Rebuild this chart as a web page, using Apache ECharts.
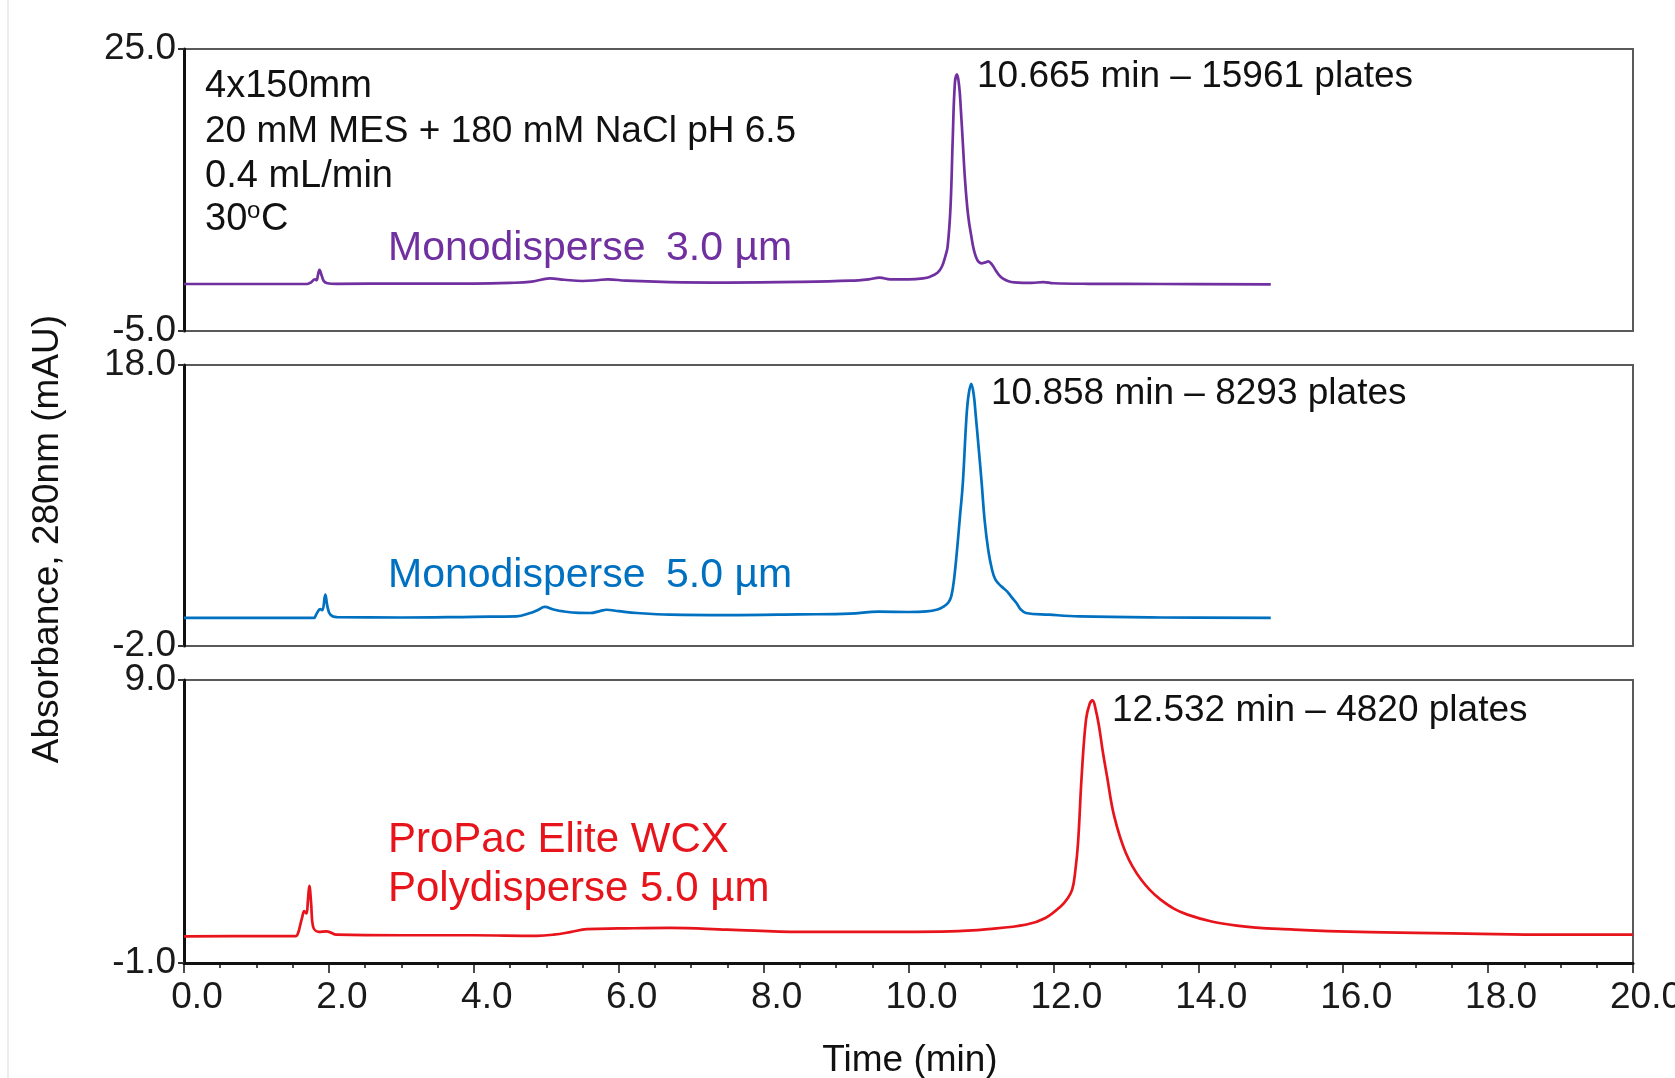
<!DOCTYPE html>
<html>
<head>
<meta charset="utf-8">
<title>WCX chromatograms</title>
<script src="https://cdn.jsdelivr.net/npm/echarts@6/dist/echarts.min.js"></script>
<style>
  html, body { margin: 0; padding: 0; background: #fff; }
  #chart { width: 1675px; height: 1078px; }
</style>
</head>
<body>
<div id="chart"></div>
<script>
// time (min), absorbance (mAU)
var mono3 = [
  [0, 0.0], [1.0, 0.0], [1.70, 0.0], [1.75, 0.15], [1.79, 0.45], [1.81, 0.5], [1.83, 0.4],
  [1.85, 1.0], [1.87, 1.5], [1.90, 0.9], [1.93, 0.3], [1.98, 0.08], [2.1, 0.02], [3.0, 0.05],
  [4.0, 0.05], [4.5, 0.12], [4.8, 0.25], [5.05, 0.6], [5.25, 0.45], [5.5, 0.32], [5.7, 0.4],
  [5.85, 0.5], [6.1, 0.35], [6.7, 0.2], [7.5, 0.15], [8.5, 0.22], [9.2, 0.35], [9.45, 0.5],
  [9.6, 0.67], [9.75, 0.5], [10.0, 0.5], [10.2, 0.6], [10.3, 0.78], [10.4, 1.2], [10.46, 1.84],
  [10.51, 3.0], [10.54, 3.97], [10.58, 8.2], [10.61, 15.3], [10.64, 21.35], [10.67, 22.3],
  [10.70, 21.0], [10.72, 18.9], [10.75, 15.0], [10.78, 11.1], [10.82, 7.5], [10.86, 5.4],
  [10.93, 2.9], [11.01, 2.2], [11.06, 2.3], [11.10, 2.4], [11.15, 2.1], [11.20, 1.5],
  [11.25, 0.95], [11.30, 0.6], [11.38, 0.3], [11.46, 0.18], [11.7, 0.12], [11.86, 0.2],
  [12.0, 0.08], [12.5, 0.02], [13.5, 0.0], [15.0, -0.05]
]
var mono5 = [
  [0, 0.0], [1.0, 0.0], [1.79, 0.0], [1.83, 0.3], [1.88, 0.63], [1.91, 0.55], [1.95, 1.65],
  [1.98, 0.8], [2.02, 0.23], [2.11, 0.05], [3.0, 0.03], [4.0, 0.08], [4.59, 0.11], [4.78, 0.35],
  [4.88, 0.55], [4.98, 0.78], [5.1, 0.6], [5.24, 0.46], [5.45, 0.36], [5.61, 0.35], [5.75, 0.5],
  [5.83, 0.58], [6.0, 0.48], [6.25, 0.35], [6.71, 0.23], [7.5, 0.2], [8.5, 0.25], [9.19, 0.3],
  [9.59, 0.44], [10.0, 0.42], [10.25, 0.46], [10.40, 0.6], [10.49, 0.82], [10.55, 1.1],
  [10.59, 1.53], [10.63, 2.8], [10.67, 4.85], [10.71, 7.2], [10.75, 9.6], [10.80, 14.3],
  [10.83, 15.9], [10.866, 16.65], [10.90, 15.9], [10.93, 14.3], [10.97, 12.0], [11.01, 9.6],
  [11.05, 7.0], [11.10, 4.85], [11.15, 3.5], [11.20, 2.72], [11.28, 2.25], [11.36, 1.89],
  [11.42, 1.5], [11.49, 1.06], [11.55, 0.6], [11.62, 0.35], [11.94, 0.23], [12.36, 0.11],
  [13.5, 0.03], [15.0, 0.0]
]
var poly5 = [
  [0, -0.06], [1.0, -0.05], [1.54, -0.05], [1.58, 0.1], [1.60, 0.3], [1.63, 0.6], [1.66, 0.83],
  [1.69, 0.75], [1.71, 1.2], [1.73, 1.73], [1.755, 1.1], [1.78, 0.3], [1.86, 0.1], [1.97, 0.12],
  [2.11, 0.0], [3.0, -0.02], [4.0, -0.02], [4.87, -0.04], [5.1, 0.0], [5.33, 0.09], [5.56, 0.2],
  [6.0, 0.22], [6.71, 0.24], [7.5, 0.18], [8.5, 0.1], [9.5, 0.1], [10.57, 0.12], [11.10, 0.2],
  [11.63, 0.36], [11.89, 0.59], [12.10, 1.0], [12.20, 1.3], [12.26, 1.6], [12.30, 2.2],
  [12.34, 3.24], [12.39, 5.6], [12.45, 7.6], [12.50, 8.15], [12.54, 8.28], [12.58, 8.0],
  [12.63, 7.36], [12.68, 6.5], [12.74, 5.6], [12.84, 4.18], [13.00, 2.89], [13.21, 1.95],
  [13.48, 1.24], [13.85, 0.71], [14.53, 0.32], [15.32, 0.18], [16.38, 0.09], [17.70, 0.04],
  [18.85, 0.0], [20.0, 0.0]
]
// y range of each panel [min, max]
var yRanges = [[-5, 25], [-2, 18], [-1, 9]]
var traceColors = ['#7030A0', '#0070C0', '#E8141C']
var peakNotes = ['10.665 min \u2013 15961 plates', '10.858 min \u2013 8293 plates', '12.532 min \u2013 4820 plates']
var conditions = ['4x150mm', '20 mM MES + 180 mM NaCl pH 6.5', '0.4 mL/min']
var traceNames = ['Monodisperse\u20023.0 \u00b5m', 'Monodisperse\u20025.0 \u00b5m', 'ProPac Elite WCX', 'Polydisperse 5.0 \u00b5m']

var FONT = '"Liberation Sans", Arial, sans-serif'
var myChart = echarts.init(document.getElementById('chart'))

var panels = [
  { top: 49, height: 282 },
  { top: 365, height: 281 },
  { top: 680, height: 283 }
]

var grids = [], xAxes = [], yAxes = []
panels.forEach(function (p, i) {
  grids.push({
    left: 184, right: 42, top: p.top, height: p.height,
    outerBoundsMode: 'none', containLabel: false,
    show: true, borderColor: '#595959', borderWidth: 2, backgroundColor: 'transparent'
  })
  var last = i === 2
  xAxes.push({
    type: 'value', gridIndex: i, min: 0, max: 20, interval: 2,
    axisLine: { show: last, onZero: false, lineStyle: { color: '#111', width: 3 } },
    axisTick: { show: last, length: 10, lineStyle: { color: '#111', width: 1.5 } },
    minorTick: { show: last, splitNumber: 4, length: 5, lineStyle: { color: '#111', width: 1.5 } },
    axisLabel: {
      show: last, fontSize: 37, fontFamily: FONT, color: '#1a1a1a', margin: 16,
      padding: [0, 0, 0, 26],
      formatter: function (v) { return v.toFixed(1) }
    },
    splitLine: { show: false }
  })
  var r = yRanges[i]
  yAxes.push({
    type: 'value', gridIndex: i, min: r[0], max: r[1],
    axisLine: { show: true, onZero: false, lineStyle: { color: '#111', width: 3 } },
    axisTick: { show: true, length: 6, customValues: r, lineStyle: { color: '#333', width: 2 } },
    axisLabel: {
      fontSize: 37, fontFamily: FONT, color: '#1a1a1a', margin: 8, customValues: r,
      padding: [6, 0, 0, 0],
      formatter: function (v) { return v.toFixed(1) }
    },
    splitLine: { show: false }
  })
})

var traces = [mono3, mono5, poly5]
var series = traces.map(function (d, i) {
  return {
    type: 'line', xAxisIndex: i, yAxisIndex: i, data: d,
    showSymbol: false, smooth: 0.4, silent: true,
    lineStyle: { color: traceColors[i], width: 2.7 }
  }
})

function txt (x, y, s, size, color, align) {
  return {
    type: 'text', x: x, y: y, silent: true,
    style: { text: s, font: size + 'px ' + FONT, fill: color || '#111', align: align || 'left', verticalAlign: 'middle' }
  }
}

var graphics = [
  { type: 'line', shape: { x1: 8, y1: 0, x2: 8, y2: 1078 }, style: { stroke: '#ececec', lineWidth: 2 }, silent: true },
  txt(205, 87, conditions[0], 38),
  txt(205, 131.5, conditions[1], 37),
  txt(205, 176.5, conditions[2], 38),
  txt(205, 219.5, '30', 38),
  txt(247, 211.5, 'o', 24),
  txt(261, 219.5, 'C', 38),
  txt(977, 77, peakNotes[0], 37),
  txt(991, 394, peakNotes[1], 37),
  txt(1112, 711, peakNotes[2], 37),
  txt(388, 249, traceNames[0], 41, traceColors[0]),
  txt(388, 575.5, traceNames[1], 41, traceColors[1]),
  txt(388, 840, traceNames[2], 42, traceColors[2]),
  txt(388, 889.5, traceNames[3], 42, traceColors[2]),
  txt(910, 1061, 'Time (min)', 37, '#111', 'center'),
  {
    type: 'text', x: 48, y: 539, rotation: Math.PI / 2, silent: true,
    style: { text: 'Absorbance, 280nm (mAU)', font: '37px ' + FONT, fill: '#111', align: 'center', verticalAlign: 'middle' }
  }
]

var option = {
  animation: false,
  backgroundColor: '#fff',
  grid: grids,
  xAxis: xAxes,
  yAxis: yAxes,
  series: series,
  graphic: graphics
}
myChart.setOption(option)
</script>
</body>
</html>
